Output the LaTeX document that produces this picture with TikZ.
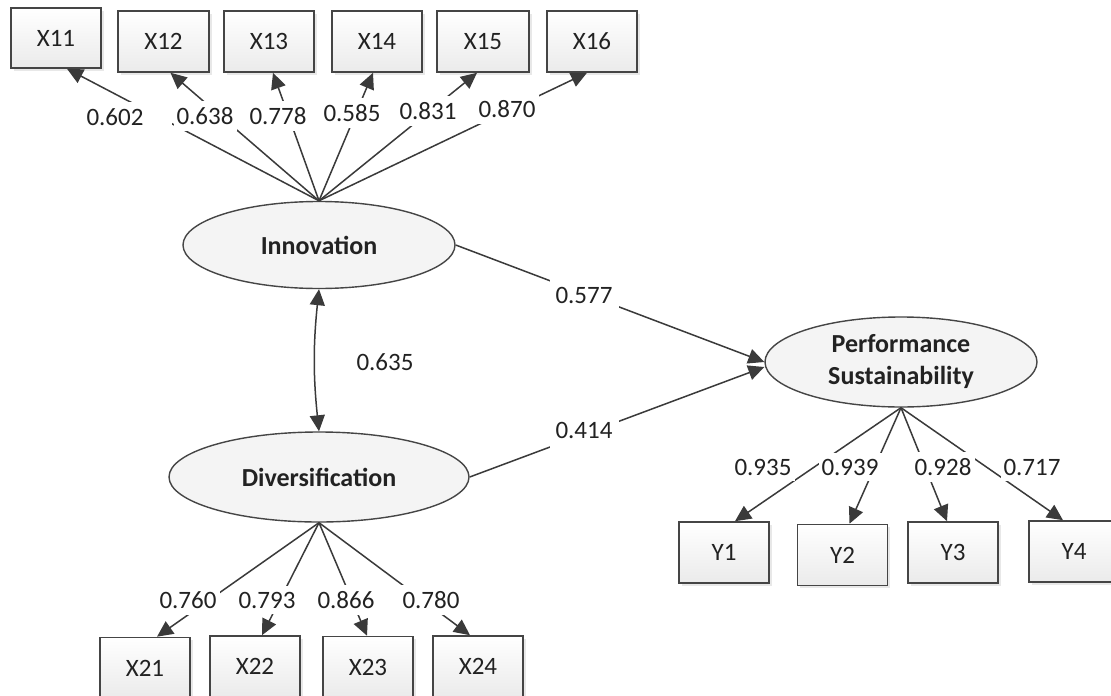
\documentclass[tikz,border=0pt]{standalone}
\usepackage{fontspec}
\setmainfont{Carlito}
\usetikzlibrary{arrows.meta,shapes.geometric,shadows,calc}
\definecolor{lc}{HTML}{3A3A3A}
\definecolor{bc}{HTML}{454545}
\definecolor{tc}{HTML}{222222}
\begin{document}
\begin{tikzpicture}[x=1pt,y=-1pt,
  obs/.style={draw=bc, line width=1.6pt, top color=white, bottom color=gray!16,
    minimum width=90pt, minimum height=61pt, inner sep=0pt,
    font=\fontsize{25}{30}\selectfont, text=tc,
    drop shadow={shadow xshift=2.5pt, shadow yshift=-2.5pt, opacity=0.18}},
  lat/.style={ellipse, draw=bc, line width=1.4pt, fill=gray!9, inner sep=0pt,
    align=center, font=\bfseries\fontsize{26}{32}\selectfont, text=tc},
  conn/.style={draw=lc, line width=1.5pt, -{Triangle[length=16pt,width=15pt]}},
  dconn/.style={draw=lc, line width=1.5pt, {Triangle[length=16pt,width=15pt]}-{Triangle[length=16pt,width=15pt]}},
  lab/.style={fill=white, inner xsep=3pt, inner ysep=6pt,
    font=\fontsize{25}{30}\selectfont, text=tc},
  labw/.style={lab, inner xsep=6pt, inner ysep=14pt}]
\useasboundingbox[fill=white] (0,0) rectangle (1111,696);

% latent variables
\node[lat, minimum width=272pt, minimum height=87pt] (inn) at (319,245) {Innovation};
\node[lat, minimum width=300pt, minimum height=90pt] (div) at (319,477) {Diversification};
\node[lat, minimum width=272pt, minimum height=90pt] (perf) at (901,362) {Performance\\Sustainability};

% observed indicators
\node[obs, minimum height=60pt] (X11) at (56,38) {X11};
\node[obs, minimum width=91pt] (X12) at (163.5,41.5) {X12};
\node[obs] (X13) at (269,41.5) {X13};
\node[obs] (X14) at (377,41.5) {X14};
\node[obs, minimum width=92pt] (X15) at (483,41.5) {X15};
\node[obs] (X16) at (592,41.5) {X16};

\node[obs] (Y1) at (724,552.5) {Y1};
\node[obs] (Y2) at (842.5,555) {Y2};
\node[obs] (Y3) at (953,552.5) {Y3};
\node[obs] (Y4) at (1074,551.5) {Y4};

\node[obs] (X21) at (145,668) {X21};
\node[obs] (X22) at (255,666.5) {X22};
\node[obs] (X23) at (368,667) {X23};
\node[obs] (X24) at (478,666.5) {X24};

% connectors
\draw[conn] (inn.north) -- ([xshift=11pt]X11.south);
\draw[conn] (inn.north) -- ([xshift=7pt]X12.south);
\draw[conn] (inn.north) -- ([xshift=4pt]X13.south);
\draw[conn] (inn.north) -- ([xshift=-4pt]X14.south);
\draw[conn] (inn.north) -- ([xshift=-6pt]X15.south);
\draw[conn] (inn.north) -- ([xshift=-5pt]X16.south);

\draw[conn] (perf.south) -- ([xshift=11pt]Y1.north);
\draw[conn] (perf.south) -- ([xshift=7pt]Y2.north);
\draw[conn] (perf.south) -- ([xshift=-6pt]Y3.north);
\draw[conn] (perf.south) -- ([xshift=-11pt]Y4.north);

\draw[conn] (div.south) -- ([xshift=12pt]X21.north);
\draw[conn] (div.south) -- ([xshift=7pt]X22.north);
\draw[conn] (div.south) -- ([xshift=-1pt]X23.north);
\draw[conn] (div.south) -- ([xshift=-8pt]X24.north);

\draw[conn] (inn.east) -- (perf.west);
\draw[conn] (div.east) -- ([yshift=-5pt]perf.west);
\draw[dconn] (inn.south) to[bend right=6] (div.north);

% labels
\node[lab] (l11) at (128,117) {0.602\kern26pt};
\node[lab] (l12) at (205,116) {0.638};
\node[lab] (l13) at (278,116) {0.778};
\node[lab] (l14) at (352,113) {0.585};
\node[lab] (l15) at (428,111) {0.831};
\node[lab] (l16) at (507,109) {0.870};

\node[labw] (lip) at (584,295) {0.577};
\node[labw] (ldp) at (584,430) {0.414};
\node[lab] (lid) at (385,362) {0.635};

\node[lab] (ly1) at (763,467) {0.935};
\node[lab] (ly2) at (850,467) {0.939};
\node[lab] (ly3) at (943,467) {0.928};
\node[lab] (ly4) at (1032,467) {0.717};

\node[lab] (l21) at (188,600) {0.760};
\node[lab] (l22) at (267,600) {0.793};
\node[lab] (l23) at (346,600) {0.866};
\node[lab] (l24) at (431,600) {0.780};
\end{tikzpicture}
\end{document}
